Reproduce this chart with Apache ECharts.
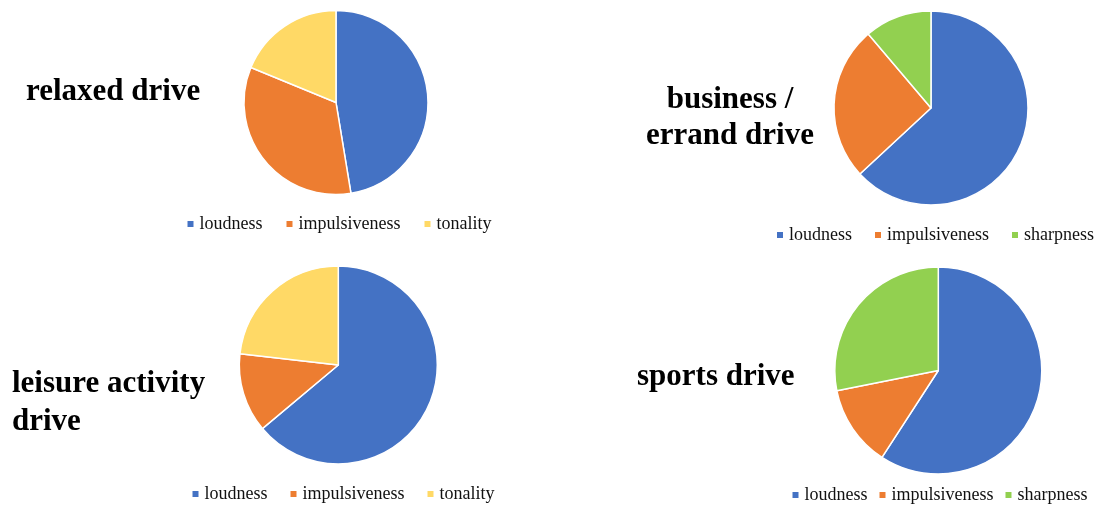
<!DOCTYPE html>
<html>
<head>
<meta charset="utf-8">
<script src="https://cdn.jsdelivr.net/npm/echarts@6/dist/echarts.min.js"></script>
<style>
  html, body { margin: 0; padding: 0; background: #fff; }
  #chart { width: 1095px; height: 507px; }
</style>
</head>
<body>
<div id="chart"></div>
<script>
// categories of each pair of pies
const namesTonality = ['loudness', 'impulsiveness', 'tonality']
const namesSharpness = ['loudness', 'impulsiveness', 'sharpness']

// shares in percent
const relaxedValues = [47.4, 33.8, 18.8]
const businessValues = [63.1, 25.7, 11.2]
const leisureValues = [63.9, 12.9, 23.2]
const sportsValues = [59.1, 12.7, 28.1]

const colors = {
  loudness: '#4472C4',
  impulsiveness: '#ED7D31',
  tonality: '#FFD966',
  sharpness: '#92D050'
}

const serif = '"Liberation Serif", "Times New Roman", serif'

// build pie data from names + values
const toData = (names, values) =>
  names.map((n, i) => ({ name: n, value: values[i], itemStyle: { color: colors[n] } }))

const pie = (names, values, center, radius) => ({
  type: 'pie',
  center: center,
  radius: radius,
  startAngle: 90,
  clockwise: true,
  silent: true,
  label: { show: false },
  labelLine: { show: false },
  itemStyle: { borderColor: '#fff', borderWidth: 1.5 },
  emphasis: { disabled: true },
  data: toData(names, values)
})

// legend row, left = x of first marker, top = row top
const legend = (names, left, top, gap) => ({
  data: names,
  left: left,
  top: top,
  width: 400,
  padding: 0,
  orient: 'horizontal',
  icon: 'rect',
  itemWidth: 8,
  itemHeight: 8,
  itemGap: gap,
  selectedMode: false,
  textStyle: { fontFamily: serif, fontSize: 18, color: '#111' }
})

const title = (text, x, y, align) => ({
  type: 'text',
  x: x,
  y: y,
  style: {
    text: text,
    font: 'bold 31px ' + serif,
    fill: '#000',
    align: align,
    verticalAlign: 'middle'
  }
})

const chart = echarts.init(document.getElementById('chart'))
chart.setOption({
  animation: false,
  legend: [
    legend(namesTonality, 185.5, 215, 22),
    legend(namesSharpness, 775, 226, 21),
    legend(namesTonality, 190.5, 485, 21),
    legend(namesSharpness, 790.5, 486, 10)
  ],
  graphic: [
    title('relaxed drive', 26, 92, 'left'),
    title('business /', 730, 100, 'center'),
    title('errand drive', 730, 136, 'center'),
    title('leisure activity', 12, 384, 'left'),
    title('drive', 12, 422, 'left'),
    title('sports drive', 637, 377, 'left')
  ],
  series: [
    pie(namesTonality, relaxedValues, [336, 102.5], 92),
    pie(namesSharpness, businessValues, [931, 108], 97),
    pie(namesTonality, leisureValues, [338.3, 365], 99),
    pie(namesSharpness, sportsValues, [938.3, 370.5], 103.5)
  ]
})
</script>
</body>
</html>
